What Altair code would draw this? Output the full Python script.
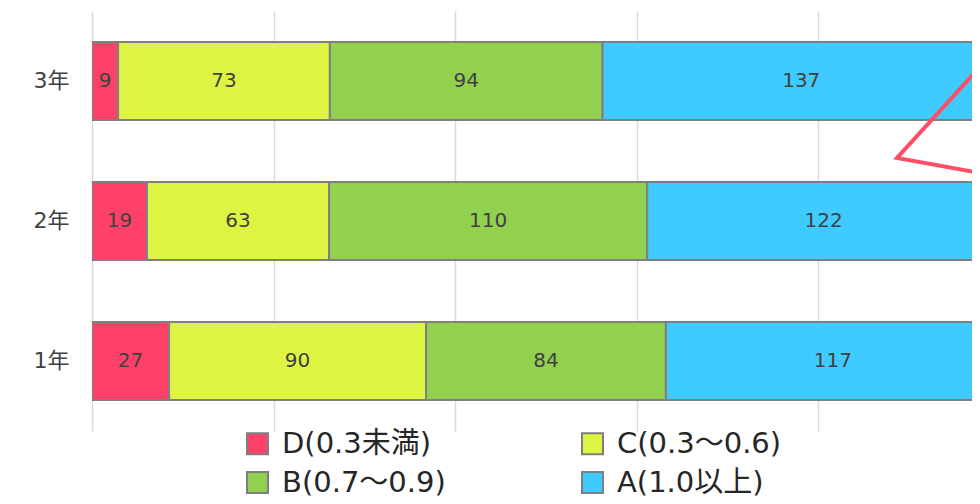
import altair as alt
import pandas as pd

years = ["3年", "2年", "1年"]
categories = ["D(0.3未満)", "C(0.3～0.6)", "B(0.7～0.9)", "A(1.0以上)"]
colors = ["#FF4069", "#DDF542", "#92D050", "#3FCBFF"]
val_D = [9, 19, 27]
val_C = [73, 63, 90]
val_B = [94, 110, 84]
val_A = [137, 122, 117]

# callout pointer (annotation), x in share of total, y in band units from top
callout_x = [1.044, 0.8866, 1.044]
callout_y = [-0.07, 1.05, 1.234]

rows = []
for ci, (cat, vals) in enumerate(zip(categories, [val_D, val_C, val_B, val_A])):
    for yr, v in zip(years, vals):
        rows.append({"year": yr, "cat": cat, "order": ci, "value": v})
df = pd.DataFrame(rows)
callout_df = pd.DataFrame({"cx": callout_x, "cy": callout_y, "i": [0, 1, 2]})

FONT = "DejaVu Sans, Noto Sans CJK JP"
xscale = alt.Scale(domain=[0, 0.9692], nice=False, zero=False)
yscale = alt.Scale(domain=years, paddingInner=0.443, paddingOuter=0.2215)

base = alt.Chart(df).transform_stack(
    stack="value", as_=["s0", "s1"], groupby=["year"],
    sort=[alt.SortField("order")], offset="normalize"
).transform_calculate(mid="(datum.s0 + datum.s1) / 2")

bars = base.mark_bar(stroke="#7F7F7F", strokeWidth=2, clip=True).encode(
    x=alt.X("s0:Q", scale=xscale, title=None,
            axis=alt.Axis(grid=True, labels=False, ticks=False, domain=False,
                          values=[0, 0.2, 0.4, 0.6, 0.8, 1.0],
                          gridColor="#D9D9D9", gridWidth=1.5)),
    x2="s1:Q",
    y=alt.Y("year:N", scale=yscale, sort=years, title=None,
            axis=alt.Axis(ticks=False, domain=False, labelPadding=23,
                          labelFontSize=22, labelColor="#404040", labelFont=FONT)),
    color=alt.Color("cat:N", scale=alt.Scale(domain=categories, range=colors),
                    sort=categories, title=None,
                    legend=alt.Legend(orient="none", legendX=151, legendY=418,
                                      direction="horizontal",
                                      columns=2, symbolType="square", symbolSize=441,
                                      symbolStrokeColor="#7F7F7F", symbolStrokeWidth=2,
                                      labelFontSize=29, labelFont=FONT, labelColor="#262626",
                                      labelOffset=10, rowPadding=9, columnPadding=132,
                                      padding=0, labelLimit=400)),
    order=alt.Order("order:Q"),
)

labels = base.mark_text(fontSize=20, font=FONT, color="#404040").encode(
    x=alt.X("mid:Q", scale=xscale),
    y=alt.Y("year:N", scale=yscale, sort=years),
    text="value:Q",
)

callout = alt.Chart(callout_df).mark_line(
    color="#FF4D66", strokeWidth=4, clip=True, strokeJoin="miter"
).encode(
    x=alt.X("cx:Q", scale=xscale),
    y=alt.Y("cy:Q", scale=alt.Scale(domain=[0, 3], reverse=True, nice=False, zero=False), axis=None),
    order="i:Q",
)

chart = alt.layer(bars + labels, callout).resolve_scale(y="independent").properties(
    width=880, height=420,
    autosize=alt.AutoSizeParams(type="none"),
    padding={"left": 84, "top": 3, "right": 0, "bottom": 73},
).configure_view(stroke=None)

chart.save("out.html", embed_options={"renderer": "svg", "actions": False})
